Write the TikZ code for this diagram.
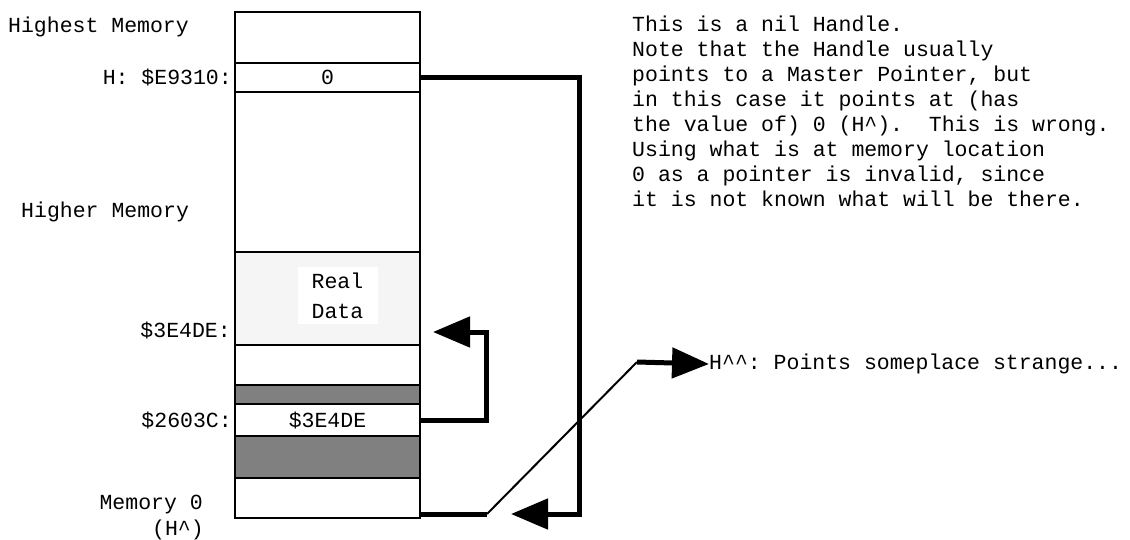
\documentclass[tikz,border=0pt]{standalone}
\usepackage{fontspec}
\setmonofont{Liberation Mono}
\usetikzlibrary{positioning}
\usetikzlibrary{arrows.meta}

\definecolor{usedgray}{HTML}{808080}
\definecolor{datagray}{HTML}{F5F5F5}
\newcommand{\memfont}{\ttfamily\frenchspacing\fontsize{21.5pt}{25pt}\selectfont}
\newcommand{\caret}{\textasciicircum}

\tikzset{
  cell/.style={draw, line width=2pt, minimum width=185pt, inner sep=0pt, outer sep=0pt},
  used/.style={cell, fill=usedgray},
  lbl/.style={inner sep=0pt},
  ptr/.style={line width=5pt},
  ptrhead/.style={-{Triangle[length=37pt,width=30pt]}}
}

\begin{document}
\begin{tikzpicture}[x=1pt, y=-1pt, font=\memfont]
\useasboundingbox (0,0) rectangle (1130,540);
% memory column, top to bottom
\node[cell, minimum height=51pt, anchor=north west] (top) at (235,12) {};
\node[cell, minimum height=29pt, below=0pt of top] (hcell) {0};
\node[cell, minimum height=160pt, below=0pt of hcell] (free) {};
\node[cell, fill=datagray, minimum height=93pt, below=0pt of free] (real) {};
\node[cell, minimum height=40pt, below=0pt of real] (gap) {};
\node[used, minimum height=19pt, below=0pt of gap] (used1) {};
\node[cell, minimum height=32pt, below=0pt of used1] (pcell) {\$3E4DE};
\node[used, minimum height=42pt, below=0pt of pcell] (used2) {};
\node[cell, minimum height=40pt, below=0pt of used2] (mem0) {};
\node[fill=white, minimum width=80pt, minimum height=57pt, align=center] (realtxt)
  at ([xshift=10pt,yshift=3pt]real.center) {Real\\[5pt]Data};

% addresses
\node[lbl, anchor=base west] (highest) at (8,33) {Highest Memory};
\node[lbl, left=3pt of hcell] (haddr) {H: \$E9310:};
\node[lbl, anchor=west] (higher) at (21,212) {Higher Memory};
\node[lbl, anchor=east] (daddr) at (231,330) {\$3E4DE:};
\node[lbl, left=3pt of pcell] (paddr) {\$2603C:};
\node[lbl, anchor=east] (memzero) at (203,505) {Memory 0};
\node[lbl] (hhat) at (178,530) {(H\caret)};

% notes
\node[lbl, anchor=north west, align=left] (note) at (632,16) {This is a nil Handle.\\
Note that the Handle usually\\
points to a Master Pointer, but\\
in this case it points at (has\\
the value of) 0 (H\caret).~~This is wrong.\\
Using what is at memory location\\
0 as a pointer is invalid, since\\
it is not known what will be there.};
\node[lbl, anchor=west] (strange) at (709,364) {H\caret\caret: Points someplace strange...};

% pointers
\coordinate (hatpt) at (487,514);
\coordinate (kink) at (637,362);
\coordinate (realin) at (433,332);
\draw[ptr, ptrhead] (hcell.east) -| (579,514) -- ([xshift=24pt]hatpt);
\draw[ptr, ptrhead] (pcell.east) -| (486,332) -- (realin);
\draw[ptr] (mem0.east |- hatpt) -- (hatpt);
\draw[line width=2pt] (hatpt) -- (kink);
\draw[ptr, ptrhead] (kink) -- (strange.west);
\end{tikzpicture}
\end{document}
